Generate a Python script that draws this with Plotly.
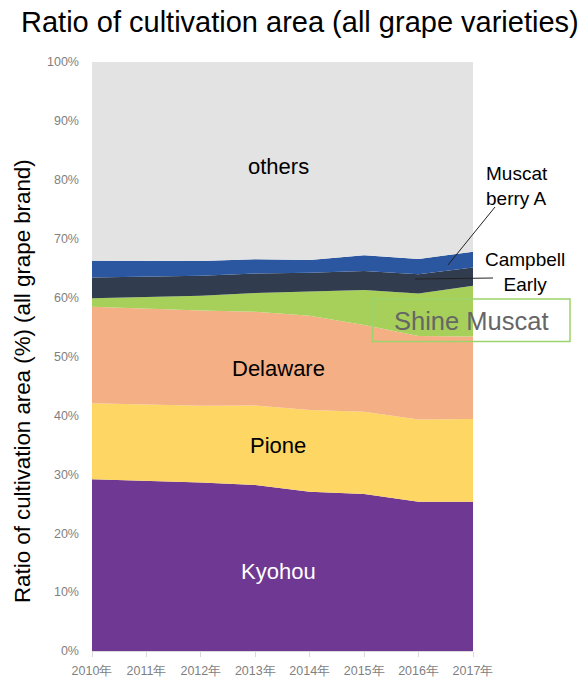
import plotly.graph_objects as go

years = [2010, 2011, 2012, 2013, 2014, 2015, 2016, 2017]
year_labels = ["2010年", "2011年", "2012年", "2013年", "2014年", "2015年", "2016年", "2017年"]

kyohou = [29.15, 28.9, 28.6, 28.2, 27.05, 26.65, 25.35, 25.35]
pione = [12.9, 12.9, 13.05, 13.5, 13.85, 13.95, 13.95, 14.05]
delaware = [16.4, 16.3, 16.15, 15.9, 16.0, 14.75, 14.2, 14.0]
shine_muscat = [1.45, 1.95, 2.5, 3.2, 4.1, 5.95, 7.2, 8.6]
campbell_early = [3.5, 3.45, 3.4, 3.3, 3.2, 3.2, 3.25, 3.1]
muscat_berry_a = [2.85, 2.7, 2.5, 2.4, 2.2, 2.7, 2.6, 2.7]
others = [33.75, 33.8, 33.8, 33.5, 33.6, 32.8, 33.45, 32.2]

series = [
    ("Kyohou", kyohou, "#6E3893"),
    ("Pione", pione, "#FDD663"),
    ("Delaware", delaware, "#F4AF85"),
    ("Shine Muscat", shine_muscat, "#A6D05A"),
    ("Campbell Early", campbell_early, "#323C4F"),
    ("Muscat berry A", muscat_berry_a, "#2A57A0"),
    ("others", others, "#E3E3E3"),
]

fig = go.Figure()
for name, vals, col in series:
    fig.add_trace(go.Scatter(
        x=years, y=vals, name=name, mode="lines",
        stackgroup="one", line=dict(width=0, color=col),
        fillcolor=col, hoverinfo="skip",
    ))

FONT = "Liberation Sans, Arial, sans-serif"

L, R, T, B = 92, 114, 62, 30
W, H = 587, 681
PW, PH = W - L - R, H - T - B


def px(x):
    return (x - L) / PW


def py(y):
    return (H - B - y) / PH


annotations = [
    dict(text="Ratio of cultivation area (all grape varieties)", x=px(300), y=py(22),
         font=dict(size=29, color="#000000")),
    dict(text="Ratio of cultivation area (%) (all grape brand)", x=px(22), y=py(381),
         textangle=-90, font=dict(size=22.3, color="#000000")),
    dict(text="others", x=px(278), y=py(166), font=dict(size=22, color="#000000")),
    dict(text="Delaware", x=px(278), y=py(368), font=dict(size=22, color="#000000")),
    dict(text="Pione", x=px(278), y=py(445), font=dict(size=22, color="#000000")),
    dict(text="Kyohou", x=px(278), y=py(571), font=dict(size=22, color="#FFFFFF")),
    dict(text="Muscat<br>berry A", x=px(484), y=py(186), xanchor="left", align="left",
         font=dict(size=19, color="#000000")),
    dict(text="Campbell<br>Early", x=px(525), y=py(272), align="center",
         font=dict(size=19, color="#000000")),
    dict(text="Shine Muscat", x=px(471), y=py(321), font=dict(size=25.5, color="#666666")),
]
for a in annotations:
    a.setdefault("xanchor", "center")
    a.update(xref="paper", yref="paper", showarrow=False, yanchor="middle")

shapes = [
    dict(type="rect", xref="paper", yref="paper", x0=px(372.5), x1=px(570),
         y0=py(299), y1=py(341.5), line=dict(color="#9CD36A", width=1.5),
         fillcolor="rgba(0,0,0,0)"),
    dict(type="line", xref="paper", yref="paper", x0=px(495), y0=py(207),
         x1=px(448), y1=py(265), line=dict(color="#222222", width=1)),
    dict(type="line", xref="paper", yref="paper", x0=px(493), y0=py(278),
         x1=px(415), y1=py(279), line=dict(color="#222222", width=1)),
]

fig.update_layout(
    width=W, height=H,
    margin=dict(l=L, r=R, t=T, b=B, pad=0, autoexpand=False),
    paper_bgcolor="white", plot_bgcolor="white",
    showlegend=False,
    font=dict(family=FONT),
    annotations=annotations,
    shapes=shapes,
    xaxis=dict(
        range=[2010, 2017], tickvals=years, ticktext=year_labels, automargin=False,
        showgrid=False, zeroline=False, showline=True, linecolor="#D9D9D9", linewidth=1,
        ticks="outside", ticklen=5, tickcolor="#D9D9D9",
        tickfont=dict(size=12.5, color="#7F7F7F", family=FONT),
        ticklabelstandoff=3,
    ),
    yaxis=dict(
        range=[0, 100], tickvals=[0, 10, 20, 30, 40, 50, 60, 70, 80, 90, 100],
        ticktext=["0%", "10%", "20%", "30%", "40%", "50%", "60%", "70%", "80%", "90%", "100%"],
        showgrid=False, zeroline=False, showline=False, ticks="", automargin=False,
        tickfont=dict(size=12.5, color="#7F7F7F", family=FONT),
        ticklabelstandoff=12,
    ),
)

fig.write_html("out.html")
